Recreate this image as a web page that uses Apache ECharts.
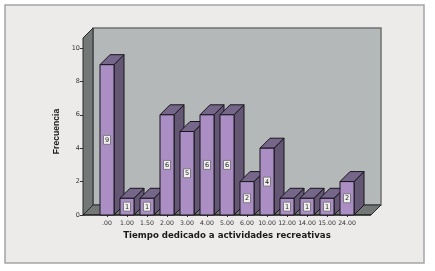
<!DOCTYPE html>
<html><head><meta charset="utf-8">
<script src="https://cdn.jsdelivr.net/npm/echarts@6/dist/echarts.min.js"></script>
<style>html,body{margin:0;padding:0;background:#fff}#c{width:435px;height:271px}</style>
</head><body><div id="c"></div>
<script>
const categories = ['.00','1.00','1.50','2.00','3.00','4.00','5.00','6.00','10.00','12.00','14.00','15.00','24.00'];
const frecuencia = [9,1,1,6,5,6,6,2,4,1,1,1,2];
const yTicks = [0,2,4,6,8,10];
const xTitle = 'Tiempo dedicado a actividades recreativas';
const yTitle = 'Frecuencia';
const DEPTH = 10, EXT = 14, OVER = 10;
const chart = echarts.init(document.getElementById('c'), null, {renderer:'canvas'});
const edge = {stroke:'#17151c', lineWidth:1};
function poly(points, fill, style){
  return {type:'polygon', shape:{points}, style:Object.assign({fill}, style||edge)};
}
function renderWalls(params, api){
  const cs = params.coordSys;
  const L = cs.x - EXT, R = cs.x + cs.width + EXT, B = cs.y + cs.height, T = api.coord([0,10])[1] - OVER;
  const D = DEPTH;
  return {type:'group', children:[
    poly([[L+D,T-D],[R+D,T-D],[R+D,B-D],[L+D,B-D]], '#b4b8b8', {stroke:'#6f7272', lineWidth:1.5}),
    poly([[L,T],[L+D,T-D],[L+D,B-D],[L,B]], '#737876', {stroke:'#26282a', lineWidth:1}),
    poly([[L,B],[L+D,B-D],[R+D,B-D],[R,B]], '#737876', {stroke:'#26282a', lineWidth:1}),
    {type:'line', shape:{x1:L,y1:B,x2:R,y2:B}, style:{stroke:'#111',lineWidth:1.2}}
  ]};
}
function renderBar(params, api){
  const c = api.coord([api.value(0), api.value(1)]);
  const base = api.coord([api.value(0), 0]);
  const w = 14, D = DEPTH, x0 = c[0]-w/2, x1 = c[0]+w/2, t = c[1], b = base[1];
  const mid = (t+b)/2;
  return {type:'group', children:[
    poly([[x1,t],[x1+D,t-D],[x1+D,b-D],[x1,b]], '#645773'),
    poly([[x0,t],[x0+D,t-D],[x1+D,t-D],[x1,t]], '#75668a'),
    poly([[x0,t],[x1,t],[x1,b],[x0,b]], '#ab8fc4'),
    {type:'rect', shape:{x:c[0]-3.5,y:mid-4.5,width:7,height:9}, style:{fill:'#f0f0ee',stroke:'#7d7882',lineWidth:1}},
    {type:'text', x:c[0], y:mid+0.5, style:{text:String(api.value(1)), fill:'#222', font:'6.5px "DejaVu Sans"', align:'center', verticalAlign:'middle'}}
  ]};
}
chart.setOption({
  animation:false,
  backgroundColor:'#ffffff',
  graphic:[{type:'rect', z:-10, shape:{x:5,y:5,width:419,height:258}, style:{fill:'#ecebe9',stroke:'#a3a5a6',lineWidth:1.5}}],
  grid:{left:97, top:48, width:260, height:167},
  xAxis:{type:'category', data:categories, boundaryGap:true,
    name:xTitle, nameLocation:'middle', nameGap:15,
    nameTextStyle:{fontFamily:'DejaVu Sans',fontWeight:'bold',fontSize:8.6,color:'#1a1a1a'},
    axisLine:{show:false}, axisTick:{show:true,alignWithLabel:true,length:2,lineStyle:{color:'#333'}},
    axisLabel:{interval:0,fontFamily:'DejaVu Sans',fontSize:6.2,color:'#333',margin:5}},
  yAxis:{type:'value', min:0, max:10, interval:2, offset:EXT,
    name:yTitle, nameLocation:'middle', nameGap:19,
    nameTextStyle:{fontFamily:'Liberation Sans',fontWeight:'bold',fontSize:8.6,color:'#1a1a1a'},
    splitLine:{show:false},
    axisLine:{show:true,lineStyle:{color:'#1c1c1c'}}, axisTick:{show:true,length:3,lineStyle:{color:'#333'}},
    axisLabel:{fontFamily:'DejaVu Sans',fontSize:6.5,color:'#333',margin:3,
      formatter:v=>yTicks.includes(v)?String(v):''}},
  series:[
    {type:'custom', silent:true, z:1, clip:false, data:[[0,0]], encode:{x:0,y:1}, renderItem:renderWalls},
    {type:'custom', z:2, clip:false, encode:{x:0,y:1}, data:frecuencia.map((v,i)=>[i,v]), renderItem:renderBar}
  ]
});
</script></body></html>
